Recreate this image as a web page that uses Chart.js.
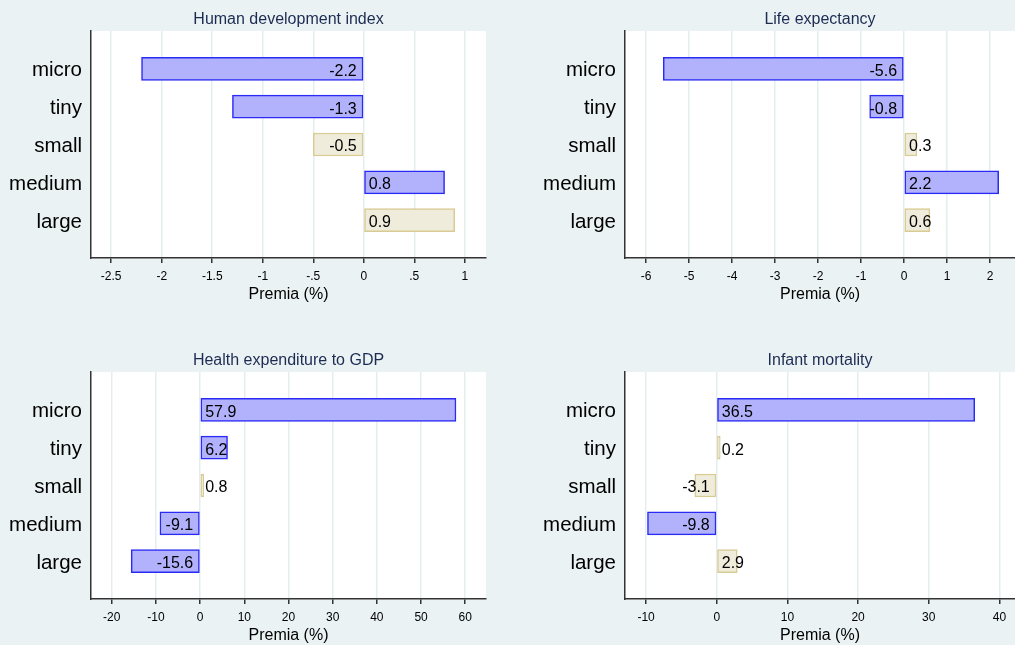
<!DOCTYPE html>
<html>
<head>
<meta charset="utf-8">
<script src="https://cdn.jsdelivr.net/npm/chart.js@4"></script>
<style>
  body { margin: 0; background: #EAF2F3; }
  #wrap { position: relative; width: 1015px; height: 645px; overflow: hidden; }
  canvas { position: absolute; }
</style>
</head>
<body>
<div id="wrap">
  <canvas id="hdi" width="507" height="322" style="left:0;top:0"></canvas>
  <canvas id="life" width="508" height="322" style="left:507px;top:0"></canvas>
  <canvas id="health" width="507" height="323" style="left:0;top:322px"></canvas>
  <canvas id="infant" width="508" height="323" style="left:507px;top:322px"></canvas>
</div>
<script>
const sizes = ["micro", "tiny", "small", "medium", "large"];

const hdiValues = [-2.2, -1.3, -0.5, 0.8, 0.9];
const hdiSignificant = [true, true, false, true, false];
const hdiTicks = [-2.5, -2, -1.5, -1, -0.5, 0, 0.5, 1];
const hdiTickLabels = ["-2.5", "-2", "-1.5", "-1", "-.5", "0", ".5", "1"];

const lifeValues = [-5.6, -0.8, 0.3, 2.2, 0.6];
const lifeSignificant = [true, true, false, true, false];
const lifeTicks = [-6, -5, -4, -3, -2, -1, 0, 1, 2];
const lifeTickLabels = ["-6", "-5", "-4", "-3", "-2", "-1", "0", "1", "2"];

const healthValues = [57.9, 6.2, 0.8, -9.1, -15.6];
const healthSignificant = [true, true, false, true, true];
const healthTicks = [-20, -10, 0, 10, 20, 30, 40, 50, 60];
const healthTickLabels = ["-20", "-10", "0", "10", "20", "30", "40", "50", "60"];

const infantValues = [36.5, 0.2, -3.1, -9.8, 2.9];
const infantSignificant = [true, false, false, true, false];
const infantTicks = [-10, 0, 10, 20, 30, 40];
const infantTickLabels = ["-10", "0", "10", "20", "30", "40"];

const FONT = "'Liberation Sans', Arial, Helvetica, sans-serif";
Chart.defaults.font.family = FONT;

const pad = a => [null, ...a, null];

// white plot region
const plotBg = {
  id: "plotBg",
  beforeDraw(chart) {
    const { ctx, chartArea: a } = chart;
    ctx.save();
    ctx.fillStyle = "#FFFFFF";
    ctx.fillRect(a.left, a.top, a.right - a.left, a.bottom - a.top);
    ctx.restore();
  }
};

// value labels next to the zero line
const valueLabels = {
  id: "valueLabels",
  afterDatasetsDraw(chart) {
    const ctx = chart.ctx;
    const x0 = chart.scales.x.getPixelForValue(0);
    const data = chart.data.datasets[0].data;
    ctx.save();
    ctx.font = "16px " + FONT;
    ctx.fillStyle = "#000";
    ctx.textBaseline = "middle";
    chart.getDatasetMeta(0).data.forEach((bar, i) => {
      const v = data[i];
      if (v === null) return;
      const neg = v < 0;
      ctx.textAlign = neg ? "right" : "left";
      ctx.fillText(v.toFixed(1), neg ? x0 - 7 : x0 + 5, bar.y + 2.5);
    });
    ctx.restore();
  }
};

function panel(id, title, values, sig, ticks, tickLabels, min, max, opt) {
  new Chart(document.getElementById(id), {
    type: "bar",
    data: {
      labels: pad(sizes),
      datasets: [{
        data: pad(values),
        backgroundColor: pad(sig.map(s => s ? "#B2B2FC" : "#EFECDB")),
        borderColor: pad(sig.map(s => s ? "#2A2AF5" : "#D8CB93")),
        borderWidth: 1.5,
        borderSkipped: false,
        barThickness: 23,
        minBarLength: 3.5
      }]
    },
    options: {
      indexAxis: "y",
      responsive: false,
      animation: false,
      layout: { padding: { left: 0, right: opt.right, top: 0, bottom: 0 } },
      plugins: {
        legend: { display: false },
        tooltip: { enabled: false },
        title: {
          display: true,
          text: title,
          fullSize: false,
          color: "#1C2B52",
          font: { size: 16, weight: "normal" },
          padding: { top: opt.titleTop, bottom: opt.titleBottom }
        }
      },
      scales: {
        y: {
          type: "category",
          offset: false,
          grid: { display: false, drawTicks: false },
          border: { color: "#333", width: 1.5 },
          ticks: { color: "#000", font: { size: 20.5 }, padding: 9, labelOffset: 2, autoSkip: false },
          afterFit: s => { s.width = opt.yWidth; }
        },
        x: {
          type: "linear",
          min: min,
          max: max,
          afterBuildTicks: s => { s.ticks = ticks.map(v => ({ value: v })); },
          grid: { color: "#E4EDF0", lineWidth: 1.5, tickColor: "#333", tickLength: 5 },
          border: { color: "#333", width: 1.5 },
          ticks: {
            color: "#000",
            font: { size: 12 },
            padding: 6,
            maxRotation: 0,
            autoSkip: false,
            callback: (v, i) => tickLabels[i]
          },
          title: {
            display: true,
            text: "Premia (%)",
            color: "#000",
            font: { size: 16, lineHeight: 1 },
            padding: { top: 0, bottom: opt.axisTitleBottom }
          },
          afterFit: s => { s.height = opt.axisHeight; }
        }
      }
    },
    plugins: [plotBg, valueLabels]
  });
}

const topOpt = { titleTop: 10.4, titleBottom: 1.4, axisHeight: 64, axisTitleBottom: 19 };
const botOpt = { titleTop: 29.4, titleBottom: 1.4, axisHeight: 46, axisTitleBottom: 1 };

panel("hdi", "Human development index", hdiValues, hdiSignificant, hdiTicks, hdiTickLabels,
  -2.70, 1.21, { ...topOpt, yWidth: 91, right: 21 });
panel("life", "Life expectancy", lifeValues, lifeSignificant, lifeTicks, lifeTickLabels,
  -6.49, 2.58, { ...topOpt, yWidth: 118, right: 0 });
panel("health", "Health expenditure to GDP", healthValues, healthSignificant, healthTicks, healthTickLabels,
  -24.7, 64.7, { ...botOpt, yWidth: 91, right: 21 });
panel("infant", "Infant mortality", infantValues, infantSignificant, infantTicks, infantTickLabels,
  -12.98, 42.2, { ...botOpt, yWidth: 118, right: 0 });
</script>
</body>
</html>
